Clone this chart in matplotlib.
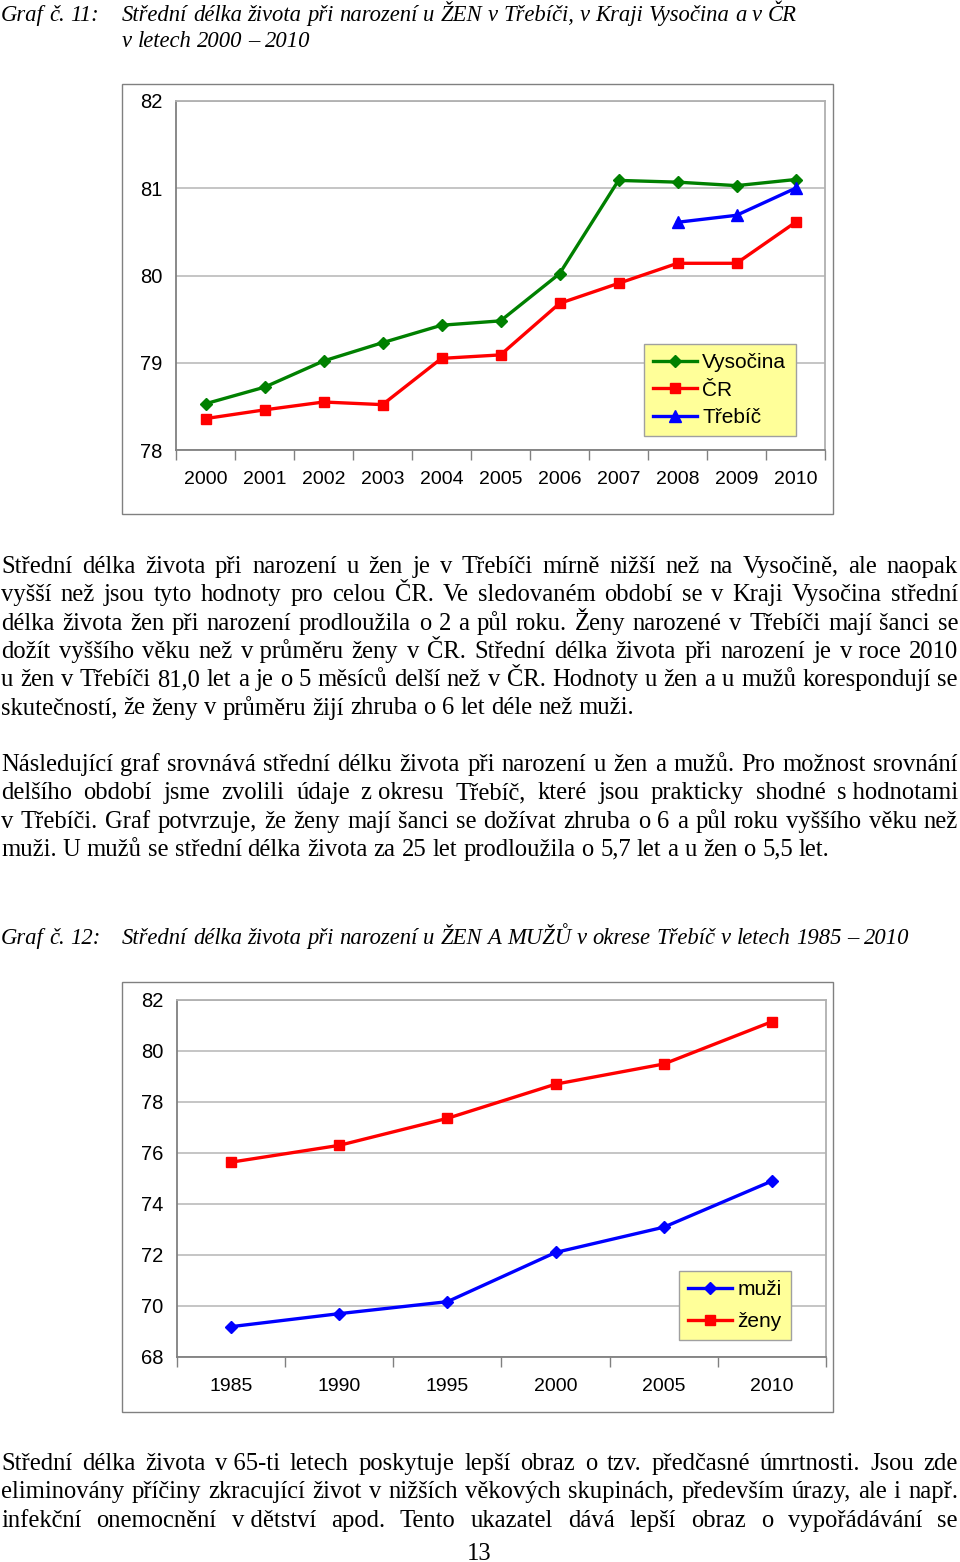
import numpy as np
import matplotlib
matplotlib.use("Agg")
import matplotlib.pyplot as plt
from matplotlib.patches import Rectangle

# graf 11 - zeny, 2000-2010
roky_11 = [2000, 2001, 2002, 2003, 2004, 2005, 2006, 2007, 2008, 2009, 2010]
vysocina = [78.53, 78.72, 79.02, 79.23, 79.43, 79.48, 80.02, 81.09, 81.07, 81.03, 81.10]
cr = [78.36, 78.46, 78.55, 78.52, 79.05, 79.09, 79.68, 79.91, 80.14, 80.14, 80.61]
trebic = [np.nan] * 8 + [80.61, 80.69, 81.0]

# graf 12 - okres Trebic, 1985-2010
roky_12 = [1985, 1990, 1995, 2000, 2005, 2010]
muzi = [69.19, 69.70, 70.17, 72.10, 73.09, 74.90]
zeny = [75.64, 76.30, 77.36, 78.70, 79.49, 81.15]

W, H = 960, 1562
SERIF = ["Liberation Serif", "DejaVu Serif"]
SANS = ["Liberation Sans", "DejaVu Sans"]
BODY = 17.7
CAPTION = 16.3
NBSP = "\u00a0"

fig = plt.figure(figsize=(W / 100, H / 100), dpi=100)
fig.patch.set_facecolor("white")
rend = fig.canvas.get_renderer()


def fx(x):
    return x / W


def fy(y):
    return 1 - y / H


def sirka(s, size, style="normal"):
    t = fig.text(0, 0, s, fontsize=size, family=SERIF, style=style)
    w = t.get_window_extent(rend).width
    t.remove()
    return w


def radek(text, y, justify=True, size=BODY, style="normal", x0=1, x1=958):
    slova = text.split(" ")
    texty = [fig.text(0, fy(y), s, fontsize=size, family=SERIF, style=style,
                      va="baseline") for s in slova]
    sirky = [t.get_window_extent(rend).width for t in texty]
    if justify and len(slova) > 1:
        mezera = (x1 - x0 - sum(sirky)) / (len(slova) - 1)
    else:
        mezera = sirka("a a", size, style) - 2 * sirka("a", size, style)
    x = x0
    for t, w in zip(texty, sirky):
        t.set_x(fx(x))
        x += w + mezera


def odstavec(radky, y0, krok=28.3):
    for i, r in enumerate(radky):
        radek(r, y0 + i * krok, justify=(i < len(radky) - 1))


def ramecek(x0, y0, x1, y1):
    fig.patches.append(Rectangle((fx(x0), fy(y1)), fx(x1) - fx(x0), fy(y0) - fy(y1),
                                 transform=fig.transFigure, fill=False,
                                 edgecolor="#808080", linewidth=1.0))


def osy(box, n, ylim, yticks, labels):
    x0, y0, x1, y1 = box
    ax = fig.add_axes([fx(x0), fy(y1), fx(x1) - fx(x0), fy(y0) - fy(y1)])
    ax.set_xlim(-0.5, n - 0.5)
    ax.set_ylim(*ylim)
    ax.set_yticks(yticks)
    ax.set_xticks(range(n))
    ax.set_xticklabels(labels)
    ax.set_xticks(np.arange(n + 1) - 0.5, minor=True)
    ax.grid(axis="y", color="#c0c0c0", linewidth=1.3)
    ax.set_axisbelow(True)
    for s in ["left", "bottom"]:
        ax.spines[s].set_color("#808080")
        ax.spines[s].set_linewidth(1.3)
    for s in ["top", "right"]:
        ax.spines[s].set_color("#b0b0b0")
        ax.spines[s].set_linewidth(1.3)
    ax.tick_params(axis="x", which="major", length=0, pad=15, labelsize=14)
    ax.tick_params(axis="x", which="minor", length=7, color="#808080", width=1)
    ax.tick_params(axis="y", length=0, pad=10, labelsize=14.5)
    for lab in ax.get_xticklabels() + ax.get_yticklabels():
        lab.set_family(SANS)
    return ax


def legenda(ax, x, y, spacing):
    leg = ax.legend(loc="upper left", bbox_to_anchor=(fx(x), fy(y)),
                    bbox_transform=fig.transFigure, frameon=True,
                    fancybox=False, facecolor="#ffff99", edgecolor="#a0a0a0",
                    framealpha=1, handlelength=2.1, handletextpad=0.25,
                    borderpad=0.45, labelspacing=spacing, borderaxespad=0,
                    prop={"family": SANS, "size": 15})
    leg.get_frame().set_linewidth(1.0)


# --- nadpis grafu 11
radek("Graf č. 11:", 21, justify=False, size=CAPTION, style="italic")
radek("Střední délka života při narození u ŽEN v Třebíči, v Kraji Vysočina a v ČR",
      21, justify=False, size=CAPTION, style="italic", x0=122)
radek("v letech 2000 – 2010", 47, justify=False, size=CAPTION, style="italic", x0=122)

# --- graf 11
ramecek(122, 84, 833, 514)
ax1 = osy((176, 101, 825, 450), len(roky_11), (78, 82), [78, 79, 80, 81, 82],
          [str(r) for r in roky_11])
x1 = np.arange(len(roky_11))
ax1.plot(x1, vysocina, color="#008000", lw=2.4, marker="D", ms=6.5, label="Vysočina")
ax1.plot(x1, cr, color="#ff0000", lw=2.4, marker="s", ms=6.5, label="ČR")
ax1.plot(x1, trebic, color="#0000ff", lw=2.4, marker="^", ms=8, label="Třebíč")
legenda(ax1, 644, 344, 0.40)

# --- text
odstavec([
    "Střední délka života při narození u žen je v Třebíči mírně nižší než na Vysočině, ale naopak",
    "vyšší než jsou tyto hodnoty pro celou ČR. Ve sledovaném období se v Kraji Vysočina střední",
    "délka života žen při narození prodloužila o 2 a půl roku. Ženy narozené v Třebíči mají šanci se",
    "dožít vyššího věku než v" + NBSP + "průměru ženy v ČR. Střední délka života při narození je v" + NBSP + "roce 2010",
    "u žen v Třebíči 81,0 let a je o 5 měsíců delší než v ČR. Hodnoty u žen a u mužů korespondují se",
    "skutečností, že ženy v průměru žijí zhruba o 6 let déle než muži.",
], 573)

odstavec([
    "Následující graf srovnává střední délku života při narození u žen a mužů. Pro možnost srovnání",
    "delšího období jsme zvolili údaje z" + NBSP + "okresu Třebíč, které jsou prakticky shodné s" + NBSP + "hodnotami",
    "v Třebíči. Graf potvrzuje, že ženy mají šanci se dožívat zhruba o 6 a půl roku vyššího věku než",
    "muži. U mužů se střední délka života za 25 let prodloužila o 5,7 let a u žen o 5,5 let.",
], 771)

# --- nadpis grafu 12
radek("Graf č. 12:", 944, justify=False, size=CAPTION, style="italic")
radek("Střední délka života při narození u ŽEN A MUŽŮ v okrese Třebíč v letech 1985 – 2010",
      944, justify=False, size=CAPTION, style="italic", x0=122)

# --- graf 12
ramecek(122, 982, 833, 1412)
ax2 = osy((177, 1000, 826, 1357), len(roky_12), (68, 82), list(range(68, 83, 2)),
          [str(r) for r in roky_12])
x2 = np.arange(len(roky_12))
ax2.plot(x2, muzi, color="#0000ff", lw=2.4, marker="D", ms=6.5, label="muži")
ax2.plot(x2, zeny, color="#ff0000", lw=2.4, marker="s", ms=6.5, label="ženy")
legenda(ax2, 679, 1271, 0.60)

# --- text pod grafem
odstavec([
    "Střední délka života v" + NBSP + "65-ti letech poskytuje lepší obraz o tzv. předčasné úmrtnosti. Jsou zde",
    "eliminovány příčiny zkracující život v nižších věkových skupinách, především úrazy, ale i např.",
    "infekční onemocnění v" + NBSP + "dětství apod. Tento ukazatel dává lepší obraz o vypořádávání se",
    "",
], 1470)

fig.text(fx(479), fy(1560), "13", fontsize=BODY, family=SERIF, ha="center", va="baseline")

fig.savefig("out.png", dpi=100, facecolor="white")
